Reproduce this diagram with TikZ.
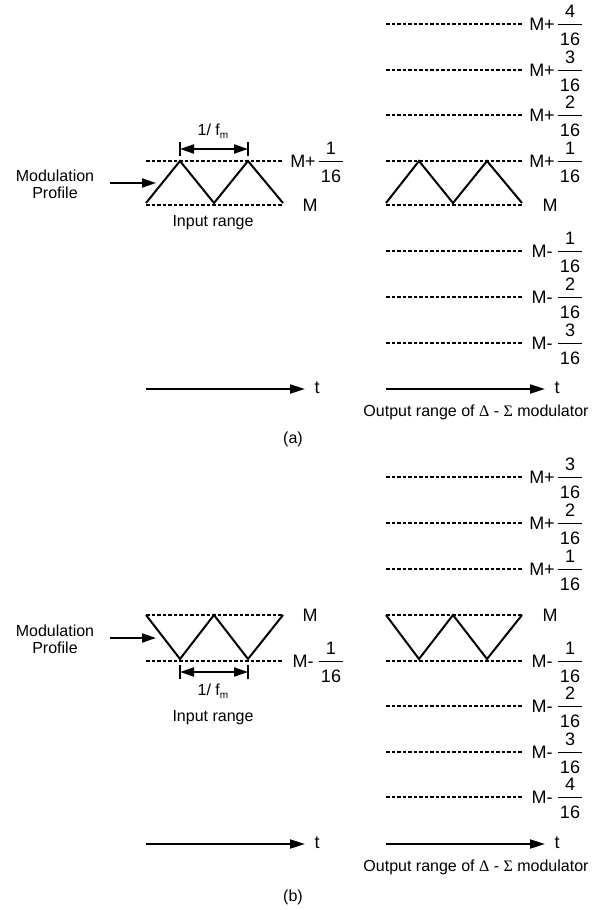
\documentclass[tikz,border=0pt]{standalone}
\usepackage{fontspec}
\setmainfont{Liberation Sans}
\newfontfamily\grk{Liberation Serif}
\usetikzlibrary{arrows.meta}
\tikzset{
  lab/.style={inner sep=0pt, font=\fontsize{16}{17}\selectfont},
  biglab/.style={inner sep=0pt, font=\fontsize{18}{18}\selectfont},
  lvl/.style={line width=1.3pt, dash pattern=on 3.5pt off 2pt},
  wave/.style={line width=2pt, line join=miter},
  axis/.style={line width=2pt, -{Triangle[length=15pt,width=9pt]}},
  pointer/.style={line width=2pt, -{Triangle[length=14pt,width=9pt]}},
  dim/.style={line width=2pt, {Triangle[length=14pt,width=9pt]}-{Triangle[length=14pt,width=9pt]}},
  dimbar/.style={line width=1.5pt},
  fracbar/.style={line width=0.9pt},
}
\newcommand{\lev}[5]{%
  \node[biglab] (#1-op) at (#2,#3) {#4};
  \node[biglab] (#1-n) at (#2+28,#3-13) {#5};
  \node[biglab] (#1-d) at (#2+28,#3+15) {16};
  \draw[fracbar] (#2+16,#3) -- (#2+40,#3);
}
\begin{document}
\begin{tikzpicture}[x=1pt,y=-1pt]
\useasboundingbox (0,0) rectangle (605,910);
\fill[white] (0,0) rectangle (605,910);

% ================= (a) =================
\draw[lvl] (146,161) -- (283,161);
\draw[lvl] (146,205) -- (283,205);
\draw[wave] (146,203) -- (180,161) -- (214,203) -- (248,161) -- (283,203);
\coordinate (aL1) at (180,149);
\coordinate (aL2) at (248,149);
\draw[dimbar] (180,142) -- (180,156);
\draw[dimbar] (248,142) -- (248,156);
\draw[dim] (aL1) -- (aL2);
\node[lab] (afm) at (213,131) {1/ f\raisebox{-3pt}{\fontsize{10}{10}\selectfont m}};
\node[lab, align=center] (amod) at (55,184) {Modulation\\Profile};
\coordinate (amodA) at (110,183);
\coordinate (amodB) at (156,183);
\draw[pointer] (amodA) -- (amodB);
\node[lab] (ainr) at (213,223) {Input range};
\lev{aL}{303}{161}{M+}{1}
\node[biglab] (aLM) at (310,205) {M};

\foreach \yy in {24,70,115,161,205,251,297,343}
  \draw[lvl] (386,\yy) -- (523,\yy);
\draw[wave] (386,203) -- (419,161) -- (453,203) -- (487,161) -- (522,203);
\lev{aR4}{542}{24}{M+}{4}
\lev{aR3}{542}{70}{M+}{3}
\lev{aR2}{542}{115}{M+}{2}
\lev{aR1}{542}{161}{M+}{1}
\node[biglab] (aRM) at (550,205) {M};
\lev{aRm1}{542}{251}{M-}{1}
\lev{aRm2}{542}{297}{M-}{2}
\lev{aRm3}{542}{343}{M-}{3}

\coordinate (aX1) at (146,389);
\coordinate (aX2) at (305,389);
\draw[axis] (aX1) -- (aX2);
\node[biglab] (at1) at (317,388) {t};
\coordinate (aX3) at (386,389);
\coordinate (aX4) at (545,389);
\draw[axis] (aX3) -- (aX4);
\node[biglab] (at2) at (557,388) {t};
\node[lab] (aout) at (476,412) {Output range of {\grk Δ} - {\grk Σ} modulator};
\node[lab] (acap) at (293,439) {(a)};

% ================= (b) =================
\draw[lvl] (146,615) -- (283,615);
\draw[lvl] (146,661) -- (283,661);
\draw[wave] (146,615) -- (180,659) -- (214,615) -- (248,659) -- (283,615);
\coordinate (bL1) at (180,672);
\coordinate (bL2) at (248,672);
\draw[dimbar] (180,665) -- (180,679);
\draw[dimbar] (248,665) -- (248,679);
\draw[dim] (bL1) -- (bL2);
\node[lab] (bfm) at (213,691) {1/ f\raisebox{-3pt}{\fontsize{10}{10}\selectfont m}};
\node[lab, align=center] (bmod) at (55,639) {Modulation\\Profile};
\coordinate (bmodA) at (110,638);
\coordinate (bmodB) at (156,638);
\draw[pointer] (bmodA) -- (bmodB);
\node[lab] (binr) at (213,718) {Input range};
\node[biglab] (bLM) at (310,615) {M};
\lev{bL}{303}{661}{M-}{1}

\foreach \yy in {477,523,569,615,661,706,752,797}
  \draw[lvl] (386,\yy) -- (523,\yy);
\draw[wave] (386,615) -- (419,659) -- (453,615) -- (487,659) -- (522,615);
\lev{bR3}{542}{477}{M+}{3}
\lev{bR2}{542}{523}{M+}{2}
\lev{bR1}{542}{569}{M+}{1}
\node[biglab] (bRM) at (550,615) {M};
\lev{bRm1}{542}{661}{M-}{1}
\lev{bRm2}{542}{706}{M-}{2}
\lev{bRm3}{542}{752}{M-}{3}
\lev{bRm4}{542}{797}{M-}{4}

\coordinate (bX1) at (146,844);
\coordinate (bX2) at (305,844);
\draw[axis] (bX1) -- (bX2);
\node[biglab] (bt1) at (317,843) {t};
\coordinate (bX3) at (386,844);
\coordinate (bX4) at (545,844);
\draw[axis] (bX3) -- (bX4);
\node[biglab] (bt2) at (557,843) {t};
\node[lab] (bout) at (476,867) {Output range of {\grk Δ} - {\grk Σ} modulator};
\node[lab] (bcap) at (293,897) {(b)};
\end{tikzpicture}
\end{document}
